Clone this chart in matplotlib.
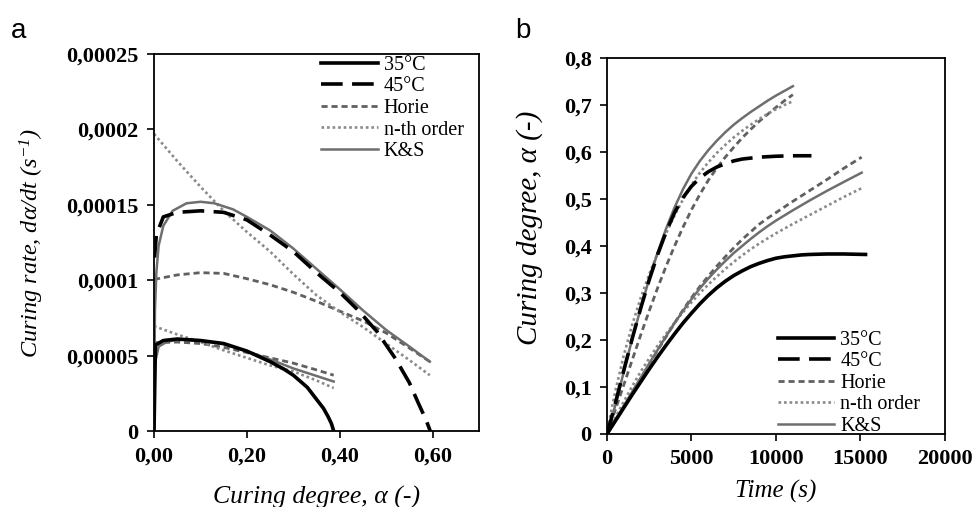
"""
Curing kinetics: rate vs degree (a) and degree vs time (b)
"""

import matplotlib
matplotlib.use("Agg")
import matplotlib.pyplot as plt
import matplotlib as mpl

mpl.rc('font', family='Liberation Serif')
mpl.rc('mathtext', fontset='custom', rm='Liberation Serif:italic',
       it='Liberation Serif:italic', default='it')

# ---- panel a: curing rate (1e-5 1/s) vs curing degree ----
a35_exp = [0, 0.003, 0.02, 0.05, 0.1, 0.15, 0.2, 0.25, 0.28, 0.3, 0.33, 0.35, 0.365, 0.375, 0.382, 0.387]
r35_exp = [0, 5.7, 6.0, 6.1, 6.0, 5.8, 5.3, 4.6, 4.1, 3.7, 2.9, 2.1, 1.5, 0.95, 0.5, 0]

a35_ks = [0, 0.002, 0.01, 0.03, 0.06, 0.1, 0.15, 0.2, 0.25, 0.3, 0.35, 0.387]
r35_ks = [0, 4.5, 5.6, 5.95, 6.05, 6.0, 5.75, 5.3, 4.75, 4.15, 3.65, 3.28]

a35_mod = [0, 0.05, 0.1, 0.15, 0.2, 0.25, 0.3, 0.35, 0.387]
r35_horie = [5.85, 5.9, 5.8, 5.55, 5.2, 4.85, 4.5, 4.05, 3.7]
r35_nth = [6.95, 6.4, 5.9, 5.35, 4.85, 4.35, 3.95, 3.35, 2.85]

a45_exp = [0.001, 0.005, 0.02, 0.05, 0.1, 0.15, 0.2, 0.25, 0.3, 0.35, 0.4, 0.44, 0.48, 0.52, 0.55, 0.57, 0.585, 0.595]
r45_exp = [11.5, 13.0, 14.2, 14.5, 14.6, 14.5, 14.0, 13.0, 11.9, 10.5, 9.2, 8.0, 6.6, 4.8, 3.2, 1.8, 0.8, 0]

a45_ks = [0, 0.002, 0.005, 0.01, 0.02, 0.04, 0.07, 0.1, 0.13, 0.17, 0.2, 0.25, 0.3, 0.35, 0.4, 0.45, 0.5, 0.55, 0.594]
r45_ks = [0, 8.0, 10.5, 12.3, 13.6, 14.6, 15.1, 15.2, 15.1, 14.7, 14.2, 13.3, 12.1, 10.75, 9.4, 8.0, 6.7, 5.6, 4.6]

a45_mod = [0, 0.05, 0.1, 0.15, 0.2, 0.25, 0.3, 0.35, 0.4, 0.45, 0.5, 0.55, 0.594]
r45_horie = [10.05, 10.35, 10.5, 10.45, 10.1, 9.7, 9.2, 8.6, 7.95, 7.3, 6.5, 5.5, 4.6]
r45_nth = [19.7, 17.9, 16.2, 14.6, 13.2, 11.9, 10.4, 9.0, 7.9, 6.9, 5.8, 4.7, 3.7]

# ---- panel b: curing degree vs time (s) ----
t35_exp = [0, 500, 1000, 1500, 2000, 2500, 3000, 3500, 4000, 4500, 5000, 5500, 6000, 6500, 7000,
           7500, 8000, 8500, 9000, 9500, 10000, 10500, 11000, 11500, 12000, 13000, 14000, 15300]
d35_exp = [0, 0.028, 0.056, 0.084, 0.111, 0.138, 0.164, 0.189, 0.213, 0.236, 0.257, 0.277, 0.295, 0.311, 0.325,
           0.337, 0.347, 0.356, 0.363, 0.369, 0.374, 0.377, 0.379, 0.381, 0.382, 0.383, 0.383, 0.382]

t35_mod = [0, 500, 1000, 1500, 2000, 2500, 3000, 3500, 4000, 4500, 5000, 5500, 6000, 6500, 7000,
           7500, 8000, 8500, 9000, 9500, 10000, 11000, 12000, 13000, 14000, 15070]
d35_horie = [0, 0.03, 0.059, 0.089, 0.118, 0.148, 0.178, 0.207, 0.236, 0.264, 0.29, 0.314, 0.336, 0.357, 0.377,
             0.396, 0.414, 0.43, 0.446, 0.459, 0.471, 0.495, 0.518, 0.541, 0.565, 0.589]
d35_nth = [0, 0.035, 0.069, 0.102, 0.133, 0.161, 0.188, 0.213, 0.237, 0.259, 0.28, 0.3, 0.318, 0.335, 0.351,
           0.366, 0.38, 0.393, 0.405, 0.416, 0.427, 0.447, 0.466, 0.485, 0.504, 0.523]
d35_ks = [0, 0.03, 0.06, 0.09, 0.12, 0.15, 0.179, 0.208, 0.236, 0.262, 0.287, 0.31, 0.331, 0.35, 0.368,
          0.385, 0.4, 0.415, 0.429, 0.442, 0.454, 0.476, 0.497, 0.517, 0.536, 0.556]

t45_exp = [0, 250, 500, 1000, 1500, 2000, 2500, 3000, 3500, 4000, 4500, 5000, 5500, 6000, 6500,
           7000, 7500, 8000, 9000, 10000, 11000, 12100]
d45_exp = [0, 0.032, 0.066, 0.136, 0.204, 0.268, 0.328, 0.382, 0.43, 0.471, 0.503, 0.527, 0.545, 0.558, 0.568,
           0.575, 0.581, 0.585, 0.589, 0.591, 0.592, 0.592]

t45_mod = [0, 250, 500, 1000, 1500, 2000, 2500, 3000, 3500, 4000, 4500, 5000, 5500, 6000, 6500,
           7000, 7500, 8000, 8500, 9000, 9500, 10000, 10500, 11000]
d45_horie = [0, 0.026, 0.052, 0.105, 0.158, 0.211, 0.262, 0.311, 0.357, 0.4, 0.44, 0.477, 0.51, 0.54, 0.566,
             0.589, 0.61, 0.63, 0.648, 0.665, 0.68, 0.695, 0.709, 0.722]
d45_nth = [0, 0.048, 0.092, 0.168, 0.233, 0.29, 0.34, 0.385, 0.427, 0.465, 0.499, 0.53, 0.556, 0.578, 0.598,
           0.615, 0.631, 0.645, 0.658, 0.67, 0.681, 0.691, 0.7, 0.708]
d45_ks = [0, 0.03, 0.062, 0.133, 0.203, 0.268, 0.33, 0.386, 0.437, 0.482, 0.521, 0.554, 0.581, 0.604, 0.624,
          0.642, 0.658, 0.672, 0.685, 0.697, 0.709, 0.72, 0.73, 0.74]

labels = ["35°C", "45°C", "Horie", "n-th order", "K&S"]

# line styles
exp35 = dict(color='black', lw=2.6, ls='-')
exp45 = dict(color='black', lw=2.6, ls=(0, (6, 2.6)))
horie = dict(color='#606060', lw=2.0, ls=(0, (2.2, 1.4)))
nth = dict(color='#8a8a8a', lw=1.9, ls=(0, (1, 1.1)))
ks = dict(color='#6e6e6e', lw=1.8, ls='-')

fig = plt.figure(figsize=(9.73, 5.07), dpi=100)
ax1 = fig.add_axes([0.1583, 0.1499, 0.334, 0.7436])
ax2 = fig.add_axes([0.6238, 0.144, 0.3474, 0.7416])

# panel a
sc = 1e-5
ax1.plot(a35_exp, [v * sc for v in r35_exp], **exp35, label=labels[0], zorder=3)
ax1.plot(a45_exp, [v * sc for v in r45_exp], **exp45, label=labels[1], zorder=3)
ax1.plot(a35_mod, [v * sc for v in r35_horie], **horie, label=labels[2])
ax1.plot(a45_mod, [v * sc for v in r45_horie], **horie)
ax1.plot(a35_mod, [v * sc for v in r35_nth], **nth, label=labels[3])
ax1.plot(a45_mod, [v * sc for v in r45_nth], **nth)
ax1.plot(a35_ks, [v * sc for v in r35_ks], **ks, label=labels[4])
ax1.plot(a45_ks, [v * sc for v in r45_ks], **ks)

ax1.set_xlim(0, 0.7)
ax1.set_ylim(0, 0.00025)
ax1.set_xticks([0, 0.2, 0.4, 0.6])
ax1.set_xticklabels(["0,00", "0,20", "0,40", "0,60"])
ax1.set_yticks([0, 0.00005, 0.0001, 0.00015, 0.0002, 0.00025])
ax1.set_yticklabels(["0", "0,00005", "0,0001", "0,00015", "0,0002", "0,00025"])
ax1.set_xlabel("Curing degree, α (-)", fontsize=18.5, style='italic', labelpad=14)
ax1.set_ylabel("Curing rate, dα/dt (s$^{-1}$)", fontsize=17.5, style='italic', labelpad=15)

# panel b
ax2.plot(t35_exp, d35_exp, **exp35, label=labels[0], zorder=3)
ax2.plot(t45_exp, d45_exp, **exp45, label=labels[1], zorder=3)
ax2.plot(t35_mod, d35_horie, **horie, label=labels[2])
ax2.plot(t45_mod, d45_horie, **horie)
ax2.plot(t35_mod, d35_nth, **nth, label=labels[3])
ax2.plot(t45_mod, d45_nth, **nth)
ax2.plot(t35_mod, d35_ks, **ks, label=labels[4])
ax2.plot(t45_mod, d45_ks, **ks)

ax2.set_xlim(0, 20000)
ax2.set_ylim(0, 0.8)
ax2.set_xticks([0, 5000, 10000, 15000, 20000])
ax2.set_xticklabels(["0", "5000", "10000", "15000", "20000"])
ax2.set_yticks([i / 10 for i in range(9)])
ax2.set_yticklabels(["0"] + ["0,%d" % i for i in range(1, 9)])
ax2.set_xlabel("Time (s)", fontsize=18, style='italic', labelpad=8)
ax2.set_ylabel("Curing degree, α (-)", fontsize=21, style='italic')
ax2.yaxis.set_label_coords(-0.19, 0.548)

for ax in (ax1, ax2):
    for s in ax.spines.values():
        s.set_linewidth(1.3)
    ax.tick_params(direction='out', length=5, width=1.2, labelsize=16, pad=6)
    for t in ax.get_xticklabels() + ax.get_yticklabels():
        t.set_fontweight('bold')

leg_kw = dict(frameon=False, fontsize=14.5, handlelength=2.8, handletextpad=0.3,
              labelspacing=0.12, borderpad=0, borderaxespad=0, loc='upper left')
ax1.legend(bbox_to_anchor=(0.515, 0.995), **leg_kw)
ax2.legend(bbox_to_anchor=(0.506, 0.275), **leg_kw)

fig.text(0.011, 0.965, "a", fontsize=20, family='Liberation Sans', va='top')
fig.text(0.529, 0.965, "b", fontsize=20, family='Liberation Sans', va='top')

plt.savefig("out.png", dpi=100)
plt.close()
